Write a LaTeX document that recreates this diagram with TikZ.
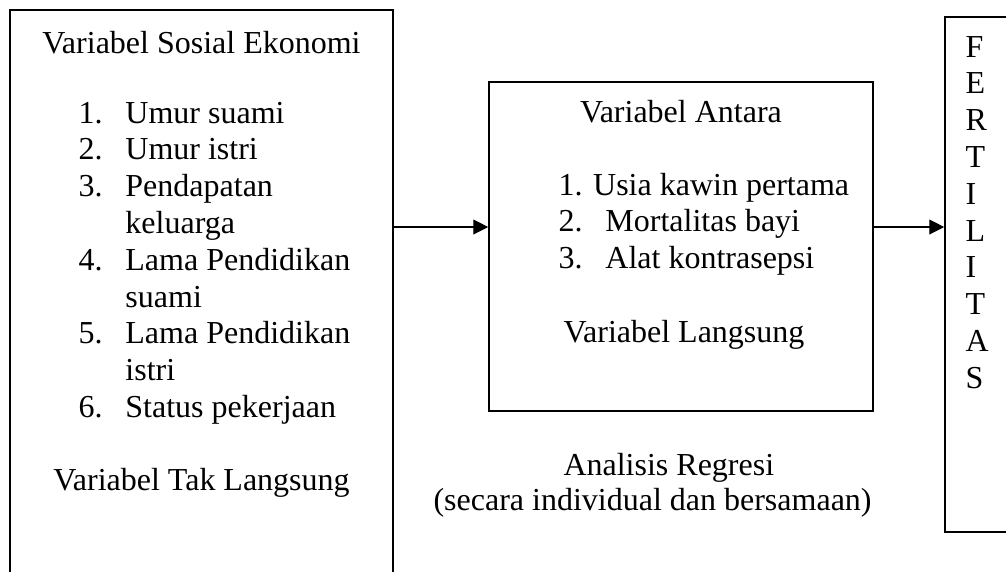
\documentclass[tikz,border=0pt]{standalone}
\usepackage{fontspec}
\setmainfont{Liberation Serif}
\usetikzlibrary{arrows.meta,fit,positioning,calc}
\tikzset{every picture/.style={/utils/exec={\fontsize{12}{13.8}\selectfont}}}
\tikzset{
	arr/.style={-{Triangle[length=5.6pt,width=5.6pt]},line width=0.4pt},
}

\begin{document}
\begin{tikzpicture}[
	x=0.375pt, y=-0.375pt,
	box/.style={draw, line width=0.6pt, inner sep=0pt},
	txt/.style={inner sep=0pt, anchor=base},
	lst/.style={inner sep=0pt, anchor=base west, align=left},
	]
	\useasboundingbox (0,0) rectangle (1006,571);
	\clip (0,0) rectangle (1006,571);

	%boxes
	\node[box, fit={(10,10) (393,620)}] (sosek) {};
	\node[box, fit={(489,82) (873,411)}] (antara) {};
	\node[box, fit={(945,17) (1040,532)}] (fert) {};

	%sosial ekonomi
	\node[txt] (sosekT) at (201.5,53) {Variabel Sosial Ekonomi};
	\node[lst] (sosekL) at (78,123) {\begin{tabular}[t]{@{}p{17.6pt}@{}l@{}}
		1. & Umur suami\\
		2. & Umur istri\\
		3. & Pendapatan\\
		   & keluarga\\
		4. & Lama Pendidikan\\
		   & suami\\
		5. & Lama Pendidikan\\
		   & istri\\
		6. & Status pekerjaan
	\end{tabular}};
	\node[txt] (sosekB) at (201.5,490) {Variabel Tak Langsung};

	%antara
	\node[txt] (antaraT) at (681,122) {Variabel Antara};
	\node[lst] (antaraL) at (558,195) {\begin{tabular}[t]{@{}p{17.6pt}@{}l@{}}
		\multicolumn{2}{@{}l@{}}{1. Usia kawin pertama}\\
		2. & Mortalitas bayi\\
		3. & Alat kontrasepsi
	\end{tabular}};
	\node[txt] (antaraB) at (684,342) {Variabel Langsung};

	%regresi
	\node[lst] (reg1) at (563,475) {Analisis Regresi};
	\node[lst] (reg2) at (433,510) {(secara individual dan bersamaan)};

	%fertilitas
	\node[lst] (fertL) at (965,57) {\begin{tabular}[t]{@{}l@{}}
		F\\ E\\ R\\ T\\ I\\ L\\ I\\ T\\ A\\ S
	\end{tabular}};

	%arrows
	\coordinate (lvl) at (0,227);
	\draw[arr] (sosek.east |- lvl) -- (antara.west |- lvl);
	\draw[arr] (antara.east |- lvl) -- (fert.west |- lvl);

\end{tikzpicture}
\end{document}
